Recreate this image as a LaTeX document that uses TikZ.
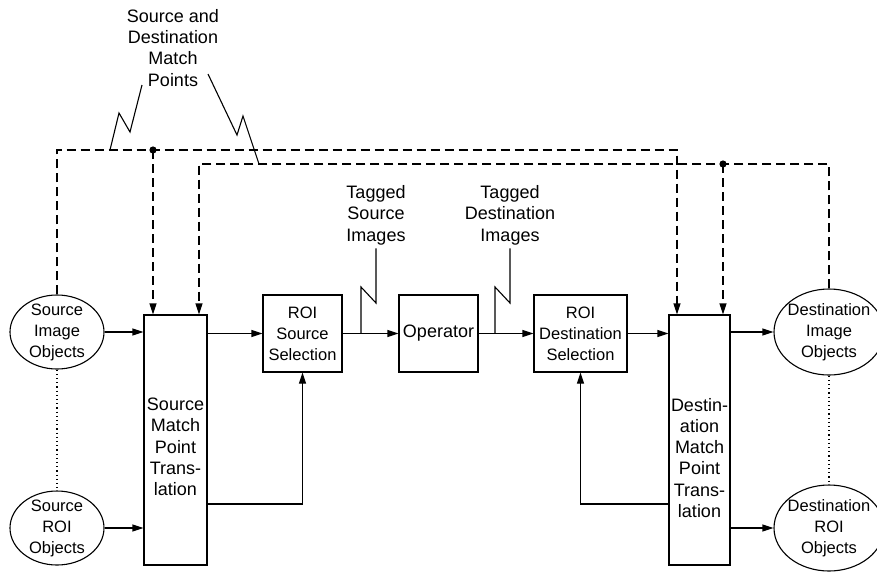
\documentclass[tikz,border=0pt]{standalone}
\usepackage{fontspec}
\setmainfont{Liberation Sans}
\usetikzlibrary{arrows.meta,positioning,shapes.geometric}

\begin{document}
\begin{tikzpicture}[
    x=1pt, y=-1pt,
    line width=1.1pt,
    smalltext/.style={font=\fontsize{16.5}{21}\selectfont},
    bigtext/.style={font=\fontsize{18}{21.3}\selectfont},
    objell/.style={draw, ellipse, inner sep=-4pt, align=center, smalltext},
    selbox/.style={draw, minimum height=77pt, inner sep=0pt, align=center, smalltext},
    matchbox/.style={draw, minimum height=250pt, inner sep=0pt},
    caption/.style={align=center, inner sep=0pt, bigtext},
    flow/.style={-{Triangle[length=11pt,width=7pt]}},
    matchline/.style={dash pattern=on 9pt off 5pt},
    roiline/.style={dash pattern=on 1.2pt off 3pt}
  ]
  \useasboundingbox (0,0) rectangle (877,571);

  % objects, selections and translations
  \node[objell, minimum width=94pt, minimum height=74pt] (srcimg) at (57,332) {Source\\Image\\Objects};
  \node[objell, minimum width=94pt, minimum height=74pt] (srcroi) at (57,528) {Source\\ROI\\Objects};
  \node[matchbox, minimum width=63pt] (smpt) at (175.5,440) {};
  \node[caption, below=83pt of smpt.north] (smpttext) {Source\\Match\\Point\\Trans-\\lation};
  \node[selbox, minimum width=79pt] (srcsel) at (302.5,333.5) {ROI\\Source\\Selection};
  \node[selbox, minimum width=79pt, bigtext] (oper) at (438.5,333.5) {Operator};
  \node[selbox, minimum width=93pt] (dstsel) at (580.5,333.5) {ROI\\Destination\\Selection};
  \node[matchbox, minimum width=61pt] (dmpt) at (699.5,440) {};
  \node[caption, below=83pt of dmpt.north] (dmpttext) {Destin-\\ation\\Match\\Point\\Trans-\\lation};
  \node[objell, minimum width=110pt, minimum height=86pt] (dstimg) at (829,332) {Destination\\Image\\Objects};
  \node[objell, minimum width=110pt, minimum height=86pt] (dstroi) at (829,528) {Destination\\ROI\\Objects};

  % captions
  \node[caption, anchor=south] (matchpts) at (173,87) {Source and\\Destination\\Match\\Points};
  \node[caption, anchor=north] (tagsrc) at (376,185) {Tagged\\Source\\Images};
  \node[caption, anchor=north] (tagdst) at (510,185) {Tagged\\Destination\\Images};

  % match point buses
  \coordinate (busAend) at (677,150);
  \coordinate (busBend) at (199,164);
  \coordinate (dotA) at (153,150);
  \coordinate (dotB) at (723,164);
  \draw[matchline, flow] (srcimg.north) |- (busAend) -- (busAend |- dmpt.north);
  \draw[matchline, flow] (dstimg.north) |- (busBend) -- (busBend |- smpt.north);
  \draw[matchline, flow] (dotA) -- (dotA |- smpt.north);
  \draw[matchline, flow] (dotB) -- (dotB |- dmpt.north);
  \fill (dotA) circle (3.6pt);
  \fill (dotB) circle (3.6pt);

  % ROI links
  \draw[roiline] (srcimg) -- (srcroi);
  \draw[roiline] (dstimg) -- (dstroi);

  % data flow
  \draw[flow] (srcimg.east) -- (srcimg.east -| smpt.west);
  \draw[flow] (srcroi.east) -- (srcroi.east -| smpt.west);
  \draw[flow] (smpt.east |- srcsel.west) -- (srcsel.west);
  \draw[flow] (srcsel) -- (oper);
  \draw[flow] (oper) -- (dstsel);
  \draw[flow] (dstsel.east) -- (dstsel.east -| dmpt.west);
  \draw[flow] (dmpt.east |- dstimg.west) -- (dstimg.west);
  \draw[flow] (dmpt.east |- dstroi.west) -- (dstroi.west);
  \coordinate (fbrow) at (0,504);
  \draw[flow] (smpt.east |- fbrow) -| (srcsel.south);
  \draw[flow] (dmpt.west |- fbrow) -| (dstsel.south);

  % callouts
  \draw (142,85) -- (130,132) -- (119,113) -- (110,150);
  \draw (208,74) -- (237,135) -- (243,116) -- (259,164);
  \draw ([yshift=-3pt]tagsrc.south) -- (376,303) -- (361,287) -- (361,333);
  \draw ([yshift=-3pt]tagdst.south) -- (510,303) -- (495,287) -- (495,333);
\end{tikzpicture}
\end{document}
